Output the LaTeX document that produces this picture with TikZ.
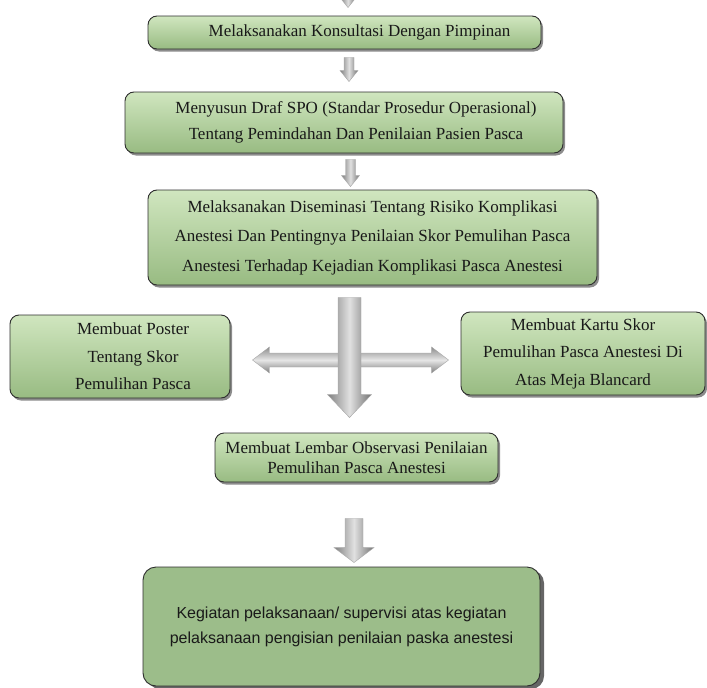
\documentclass[tikz,border=0pt]{standalone}
\usepackage{fontspec}
\setmainfont{Liberation Serif}
\newfontfamily\arialf{Liberation Sans}
\usetikzlibrary{calc,shadows}
\definecolor{gtop}{HTML}{D0E6BF}
\definecolor{gbot}{HTML}{98BB82}
\definecolor{gflat}{HTML}{9CBD8A}
\definecolor{edge}{HTML}{2E2E2E}
\tikzset{
  gbox/.style={rectangle, rounded corners=9pt, draw=edge, line width=0.9pt,
    top color=gtop, bottom color=gbot, align=center, inner sep=2pt,
    font=\fontsize{17}{26}\selectfont, text=black!90,
    drop shadow={shadow xshift=2pt, shadow yshift=-2.5pt, opacity=0.45, fill=black}},
  fbox/.style={rectangle, rounded corners=13pt, draw=edge, line width=0.9pt,
    fill=gflat, align=center, inner sep=2pt,
    font=\arialf\fontsize{16}{25}\selectfont, text=black!90,
    drop shadow={shadow xshift=4pt, shadow yshift=-3pt, opacity=0.75, fill=black!80}},
  arrowfill/.style={draw=black!35, line width=0.4pt, shading=axis,
    left color=black!50, right color=black!55, middle color=black!12},
  harrowfill/.style={draw=black!35, line width=0.4pt, shading=axis,
    top color=black!45, bottom color=black!50, middle color=black!10}
}
% top point, tip point, shaft half width, head half width, head length
\newcommand\dnarrow[5]{%
  \path[arrowfill] let \p1=#1, \p2=#2 in
   (\x2-#3,\y1) -- (\x2+#3,\y1) -- (\x2+#3,\y2+#5) -- (\x2+#4,\y2+#5) --
   (\x2,\y2) -- (\x2-#4,\y2+#5) -- (\x2-#3,\y2+#5) -- cycle;}
\begin{document}
\begin{tikzpicture}[x=1pt,y=-1pt]
\useasboundingbox (0,0) rectangle (707,688);

\node[gbox, minimum width=393pt, minimum height=33pt] (b1) at (344.5,32.5)
  {\hspace*{30pt}Melaksanakan Konsultasi Dengan Pimpinan};
\node[gbox, minimum width=438pt, minimum height=61pt] (b2) at (344,122.5)
  {\hspace*{24pt}Menyusun Draf SPO (Standar Prosedur Operasional)\\
   \hspace*{24pt}Tentang Pemindahan Dan Penilaian Pasien Pasca};
\node[gbox, minimum width=449pt, minimum height=95pt, font=\fontsize{17}{29.5}\selectfont] (b3) at (372.5,237.5)
  {Melaksanakan Diseminasi Tentang Risiko Komplikasi\\
   Anestesi Dan Pentingnya Penilaian Skor Pemulihan Pasca\\
   Anestesi Terhadap Kejadian Komplikasi Pasca Anestesi};
\node[gbox, minimum width=220pt, minimum height=83pt, font=\fontsize{17}{27.5}\selectfont] (lb) at (120,356.5)
  {\hspace*{26pt}Membuat Poster\\\hspace*{26pt}Tentang Skor\\\hspace*{26pt}Pemulihan Pasca};
\node[gbox, minimum width=244pt, minimum height=83pt, font=\fontsize{17}{27.5}\selectfont] (rb) at (583,353.5)
  {Membuat Kartu Skor\\Pemulihan Pasca Anestesi Di\\Atas Meja Blancard};
\node[gbox, minimum width=283pt, minimum height=49pt, font=\fontsize{17}{20}\selectfont] (b4) at (356.5,457.5)
  {Membuat Lembar Observasi Penilaian\\Pemulihan Pasca Anestesi};
\node[fbox, minimum width=397pt, minimum height=119pt] (b5) at (341.5,626.5)
  {Kegiatan pelaksanaan/ supervisi atas kegiatan\\
   pelaksanaan pengisian penilaian paska anestesi};

% clipped arrow above the first box
\coordinate (topin) at (348,-20);
\dnarrow{(topin)}{($(b1.north)+(3.5,-8)$)}{4.5pt}{8pt}{10pt}
% arrows between boxes
\dnarrow{($(b1.south)+(4.5,8)$)}{($(b2.north)+(5,-10)$)}{5pt}{9pt}{11pt}
\dnarrow{($(b2.south)+(6,6)$)}{($(b3.north)+(-22,-3)$)}{5pt}{9pt}{11pt}
% horizontal double arrow between side boxes
\path[harrowfill] let \p1=($(lb.east)+(22,3.5)$), \p2=($(rb.west)+(-12,6.5)$) in
  (\x1,\y1) -- (\x1+17pt,\y1+13pt) -- (\x1+17pt,\y1+7pt) -- (\x2-17pt,\y1+7pt) --
  (\x2-17pt,\y1+13pt) -- (\x2,\y1) -- (\x2-17pt,\y1-13pt) -- (\x2-17pt,\y1-7pt) --
  (\x1+17pt,\y1-7pt) -- (\x1+17pt,\y1-13pt) -- cycle;
% vertical arrow through the cross
\dnarrow{($(b3.south)+(-23,12)$)}{($(b4.north)+(-7,-15)$)}{11.5pt}{22pt}{23pt}
% arrow to final box
\dnarrow{($(b4.south)+(-2.5,36)$)}{($(b5.north)+(12.5,-4)$)}{9pt}{20pt}{15pt}
\end{tikzpicture}
\end{document}
